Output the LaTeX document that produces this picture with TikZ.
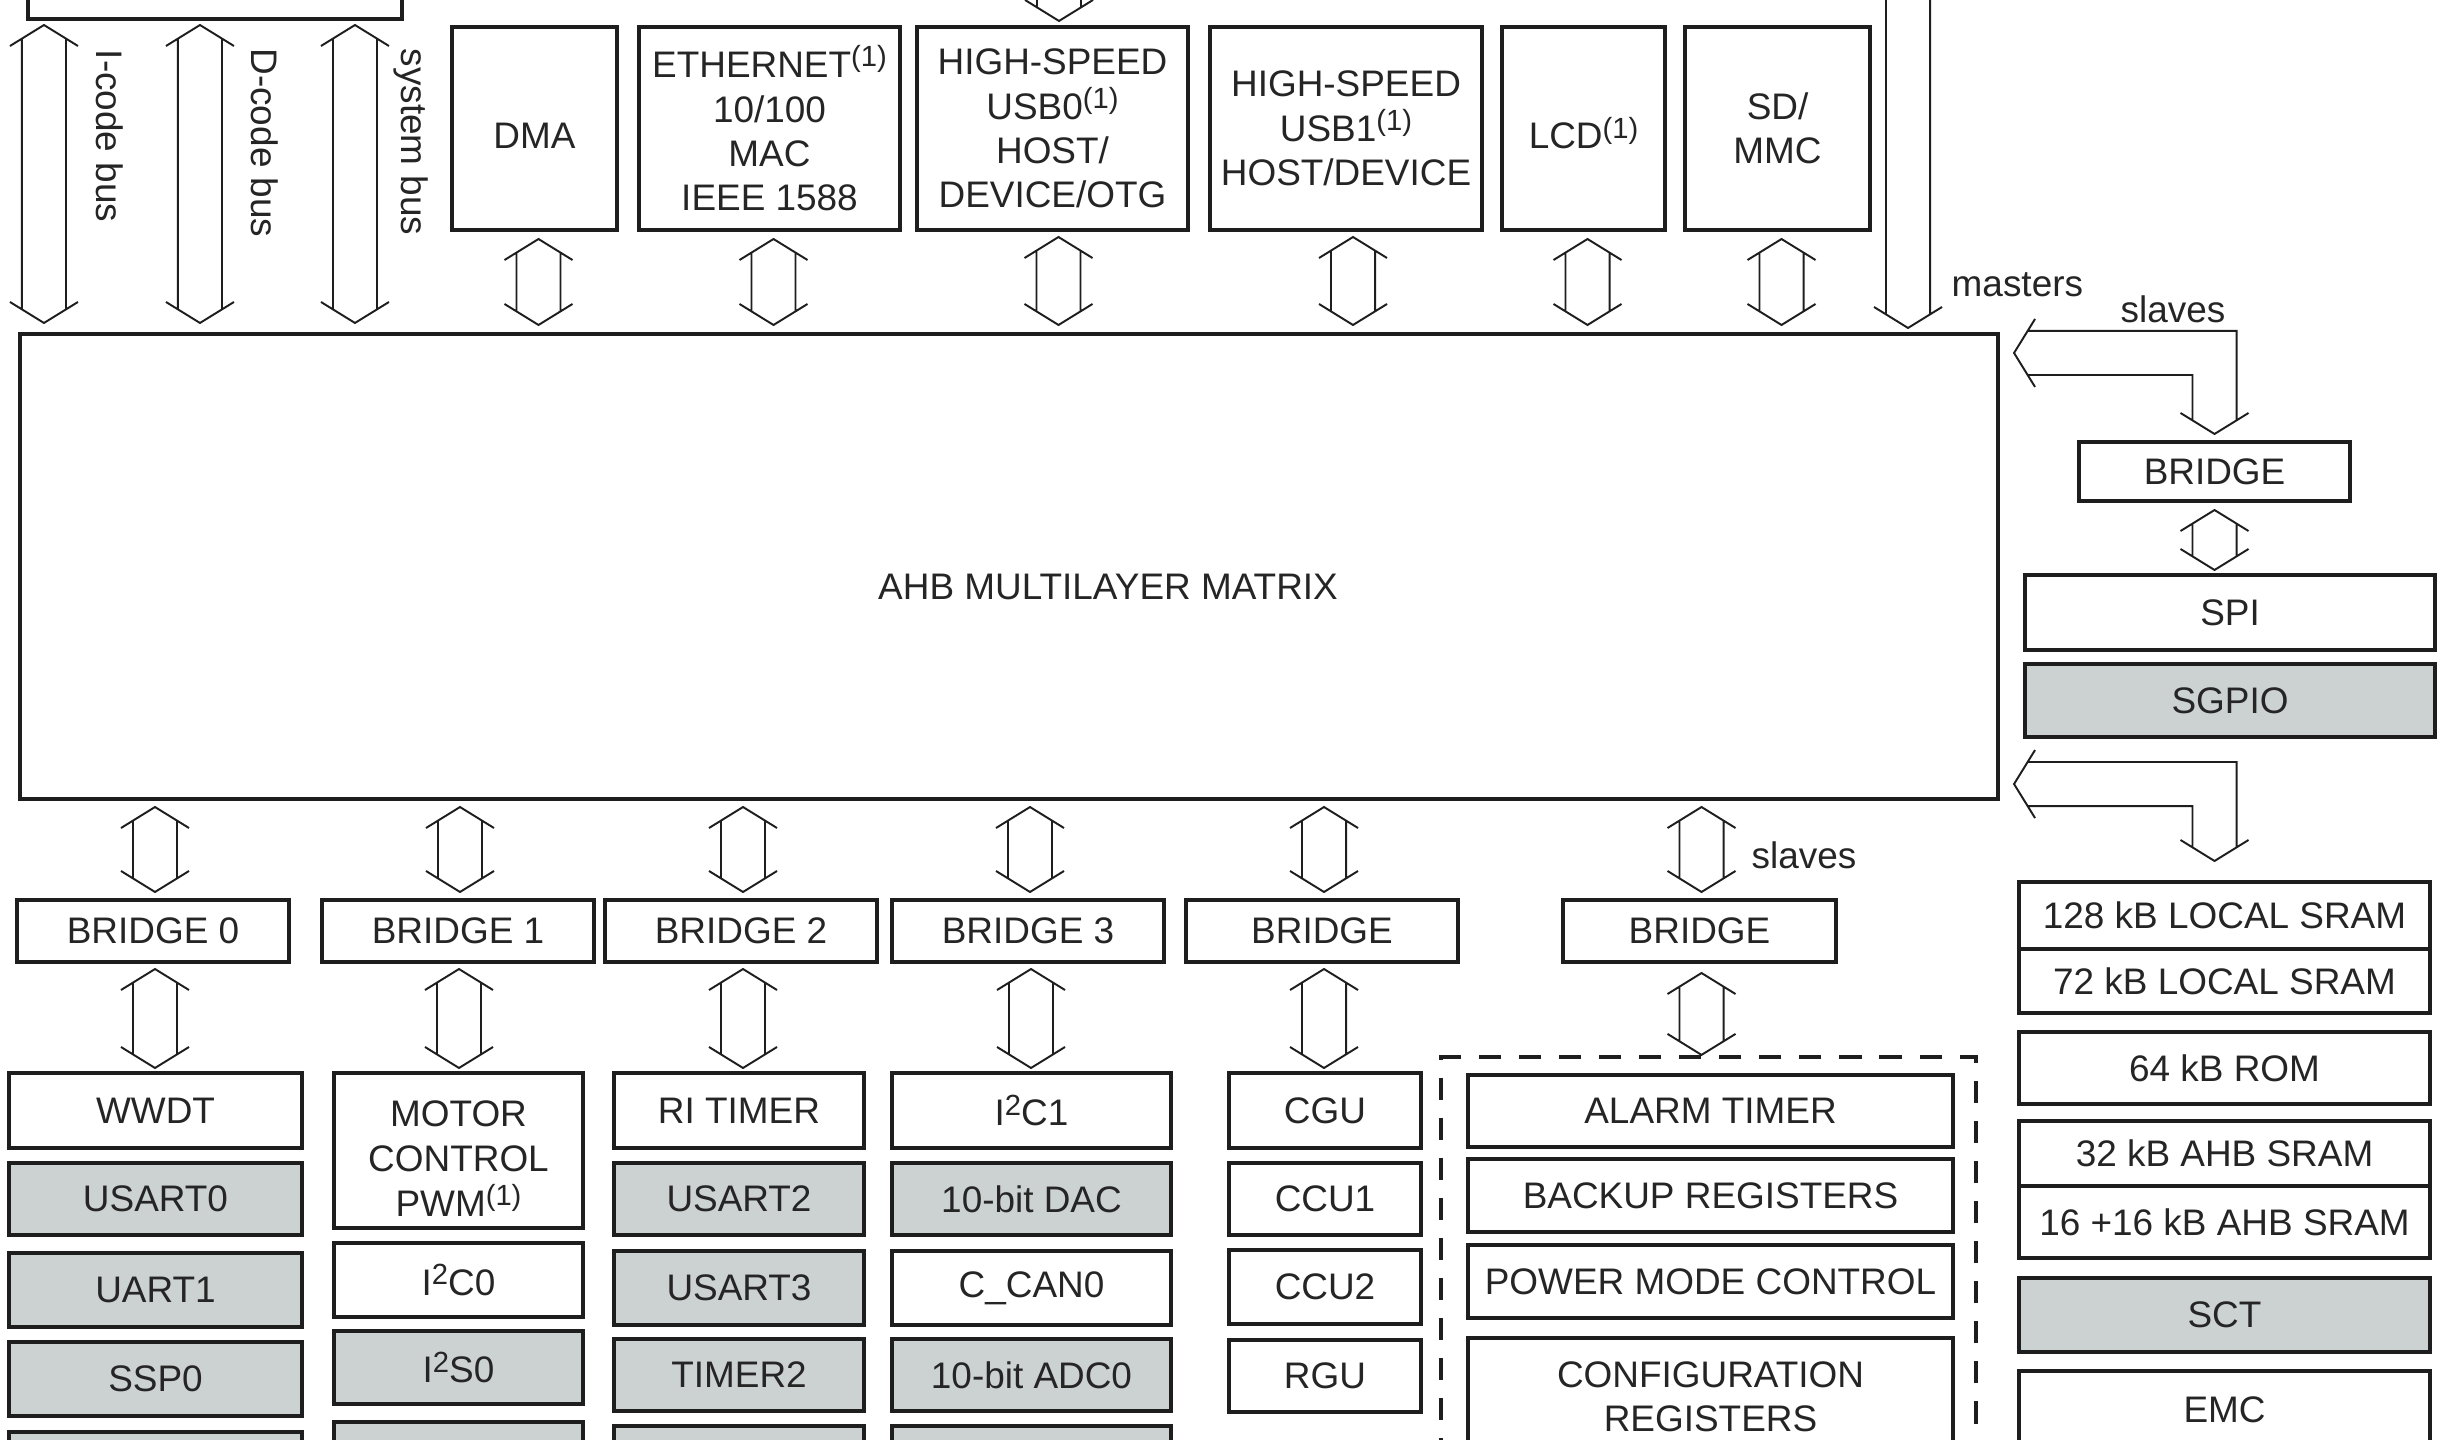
\documentclass[tikz,border=0pt]{standalone}
\usepackage{fontspec}
\setmainfont{Liberation Sans}
\usetikzlibrary{calc}
\definecolor{ink}{HTML}{1E1E1E}
\definecolor{txt}{HTML}{252525}
\definecolor{boxgray}{RGB}{204,209,209}
\newdimen\arrW \newdimen\arrH \newdimen\arrS \newdimen\arrHS
\arrW=9.67pt \arrH=5.97pt \arrS=6.26pt \arrHS=3.87pt
% superscript as printed in the figure
\newcommand\sups[1]{\raisebox{3.1pt}{\fontsize{8.3}{8.3}\selectfont #1}}
% lower a text inside its box without changing the box
\newcommand\lowr[2]{\raisebox{-#1}[\height][\depth]{#2}}
% box from (x1,y1) to (x2,y2) in pixel units, y downwards
\newcommand\bx[7]{\node[#7, minimum width={(#4-#2)*0.01cm}, minimum height={(#5-#3)*0.01cm}] (#1) at ({(#2+#4)/2},{-(#3+#5)/2}) {#6};}
% vertical double block arrow: #1 gives x, #2 top tip, #3 bottom tip
\newcommand\vdarr[3]{\draw[arr] let \p1=#1, \p2=#2, \p3=#3 in
  (\x1-\arrW,\y2-\arrH) -- (\x1,\y2) -- (\x1+\arrW,\y2-\arrH)
  (\x1-\arrW,\y3+\arrH) -- (\x1,\y3) -- (\x1+\arrW,\y3+\arrH)
  (\x1-\arrS,\y2-\arrHS) -- (\x1-\arrS,\y3+\arrHS)
  (\x1+\arrS,\y2-\arrHS) -- (\x1+\arrS,\y3+\arrHS);}
% L-shaped block arrow: #1 left tip, #2 lower tip
\newcommand\larr[2]{\draw[arr] let \p1=#1, \p2=#2 in
  (\x1+\arrH,\y1+\arrW) -- (\x1,\y1) -- (\x1+\arrH,\y1-\arrW)
  (\x2-\arrW,\y2+\arrH) -- (\x2,\y2) -- (\x2+\arrW,\y2+\arrH)
  (\x1+\arrHS,\y1+\arrS) -- (\x2+\arrS,\y1+\arrS) -- (\x2+\arrS,\y2+\arrHS)
  (\x1+\arrHS,\y1-\arrS) -- (\x2-\arrS,\y1-\arrS) -- (\x2-\arrS,\y2+\arrHS);}

\begin{document}
\begin{tikzpicture}[x=0.01cm,y=0.01cm,
  every node/.style={font=\fontsize{10.5}{12.6}\selectfont, text=txt},
  blk/.style={draw=ink, line width=1.15pt, fill=white, inner sep=0pt, align=center},
  gblk/.style={blk, fill=boxgray},
  grpbox/.style={draw=ink, line width=1.2pt, dash pattern=on 6.3pt off 5.1pt, inner sep=0pt},
  arr/.style={draw=ink, line width=0.55pt, line join=miter},
  lbl/.style={inner sep=0pt}]
\useasboundingbox[fill=white] (0,0) rectangle (2440,-1440);

% ---------- top row ----------
\bx{tl}{28}{-60}{402}{19}{}{blk}
\bx{dma}{452}{27}{617}{230}{\lowr{2.2pt}{DMA}}{blk}
\bx{eth}{639}{27}{900}{230}{ETHERNET\sups{(1)}\\10/100\\MAC\\IEEE 1588}{blk}
\bx{usb0}{917}{27}{1188}{230}{HIGH-SPEED\\USB0\sups{(1)}\\HOST/\\DEVICE/OTG}{blk}
\bx{usb1}{1210}{27}{1482}{230}{HIGH-SPEED\\USB1\sups{(1)}\\HOST/DEVICE}{blk}
\bx{lcd}{1502}{27}{1665}{230}{\lowr{1.3pt}{LCD\sups{(1)}}}{blk}
\bx{sd}{1685}{27}{1870}{230}{SD/\\MMC}{blk}

% ---------- matrix ----------
\bx{ahb}{20}{334}{1998}{799}{}{blk}
\node[lbl] (ahblbl) at (1108,-587) {AHB MULTILAYER MATRIX};

% bus arrows and labels
\vdarr{($(tl.south west)+(18,0)$)}{($(tl.south)+(0,-4)$)}{($(ahb.north)+(0,9)$)}
\vdarr{($(tl.south west)+(174,0)$)}{($(tl.south)+(0,-4)$)}{($(ahb.north)+(0,9)$)}
\vdarr{($(tl.south west)+(329,0)$)}{($(tl.south)+(0,-4)$)}{($(ahb.north)+(0,9)$)}
\node[lbl, rotate=-90] (ibus) at (110,-136) {I-code bus};
\node[lbl, rotate=-90] (dbus) at (265,-143) {D-code bus};
\node[lbl, rotate=-90] (sbus) at (411,-142) {system bus};

% top peripheral arrows
\vdarr{($(dma.south)+(4,0)$)}{($(dma.south)+(0,-7)$)}{($(ahb.north)+(0,7)$)}
\vdarr{($(eth.south)+(4,0)$)}{($(eth.south)+(0,-7)$)}{($(ahb.north)+(0,7)$)}
\vdarr{($(usb0.south)+(6,0)$)}{($(usb0.south)+(0,-5)$)}{($(ahb.north)+(0,7)$)}
\vdarr{($(usb1.south)+(7,0)$)}{($(usb1.south)+(0,-5)$)}{($(ahb.north)+(0,7)$)}
\vdarr{($(lcd.south)+(4,0)$)}{($(lcd.south)+(0,-7)$)}{($(ahb.north)+(0,7)$)}
\vdarr{($(sd.south)+(4,0)$)}{($(sd.south)+(0,-7)$)}{($(ahb.north)+(0,7)$)}
% arrows coming from above the picture
\coordinate (utop) at (1059,90);
\coordinate (mtop) at (1908,90);
\vdarr{(utop)}{(utop)}{($(usb0.north)+(0,4)$)}
\vdarr{(mtop)}{(mtop)}{($(ahb.north)+(0,4)$)}
\node[lbl, anchor=west] (mast) at (1951,-285) {masters};

% ---------- right column ----------
\bx{rbr}{2079}{442}{2350}{501}{BRIDGE}{blk}
\bx{spi}{2025}{575}{2435}{650}{SPI}{blk}
\bx{sgpio}{2025}{664}{2435}{737}{SGPIO}{gblk}
\bx{s128}{2019}{882}{2430}{949}{128 kB LOCAL SRAM}{blk}
\bx{s72}{2019}{949}{2430}{1013}{72 kB LOCAL SRAM}{blk}
\bx{rom}{2019}{1032}{2430}{1104}{64 kB ROM}{blk}
\bx{a32}{2019}{1121}{2430}{1186}{32 kB AHB SRAM}{blk}
\bx{a16}{2019}{1186}{2430}{1258}{16 +16 kB AHB SRAM}{blk}
\bx{sct}{2019}{1278}{2430}{1352}{SCT}{gblk}
\bx{emc}{2019}{1371}{2430}{1448}{EMC}{blk}

\coordinate (slA) at ($(ahb.north east)+(14,-21)$);
\coordinate (slB) at ($(ahb.south east)+(14,17)$);
\larr{(slA)}{($(rbr.north)+(0,6)$)}
\larr{(slB)}{($(s128.north)+(-10,19)$)}
\node[lbl] (slv1) at (2173,-309) {slaves};
\vdarr{(rbr.south)}{($(rbr.south)+(0,-7)$)}{($(spi.north)+(0,3)$)}

% ---------- bridges ----------
\bx{br0}{17}{900}{289}{962}{BRIDGE 0}{blk}
\bx{br1}{322}{900}{594}{962}{BRIDGE 1}{blk}
\bx{br2}{605}{900}{877}{962}{BRIDGE 2}{blk}
\bx{br3}{892}{900}{1164}{962}{BRIDGE 3}{blk}
\bx{br4}{1186}{900}{1458}{962}{BRIDGE}{blk}
\bx{br5}{1563}{900}{1836}{962}{BRIDGE}{blk}
\foreach \b in {br0,br1,br2,br3,br4,br5}{
  \vdarr{($(\b.north)+(2,0)$)}{($(ahb.south)+(0,-6)$)}{($(\b.north)+(0,6)$)}
}
\node[lbl] (slv2) at (1804,-855) {slaves};

% ---------- peripheral columns ----------
\bx{wwdt}{9}{1073}{302}{1148}{WWDT}{blk}
\bx{usart0}{9}{1163}{302}{1235}{USART0}{gblk}
\bx{uart1}{9}{1253}{302}{1327}{UART1}{gblk}
\bx{ssp0}{9}{1342}{302}{1416}{SSP0}{gblk}
\bx{c1e}{9}{1432}{302}{1510}{}{gblk}

\bx{motor}{334}{1073}{583}{1228}{\lowr{3.5pt}{\begin{tabular}{@{}c@{}}MOTOR\\CONTROL\\PWM\sups{(1)}\end{tabular}}}{blk}
\bx{i2c0}{334}{1243}{583}{1317}{I\sups{2}C0}{blk}
\bx{i2s0}{334}{1331}{583}{1404}{I\sups{2}S0}{gblk}
\bx{c2e}{334}{1422}{583}{1500}{}{gblk}

\bx{ritimer}{614}{1073}{864}{1148}{RI TIMER}{blk}
\bx{usart2}{614}{1163}{864}{1235}{USART2}{gblk}
\bx{usart3}{614}{1251}{864}{1325}{USART3}{gblk}
\bx{timer2}{614}{1339}{864}{1411}{TIMER2}{gblk}
\bx{c3e}{614}{1426}{864}{1500}{}{gblk}

\bx{i2c1}{892}{1073}{1171}{1148}{I\sups{2}C1}{blk}
\bx{dac}{892}{1163}{1171}{1235}{10-bit DAC}{gblk}
\bx{ccan0}{892}{1251}{1171}{1325}{C\_CAN0}{blk}
\bx{adc0}{892}{1339}{1171}{1411}{10-bit ADC0}{gblk}
\bx{c4e}{892}{1426}{1171}{1500}{}{gblk}

\bx{cgu}{1229}{1073}{1421}{1148}{CGU}{blk}
\bx{ccu1}{1229}{1163}{1421}{1235}{CCU1}{blk}
\bx{ccu2}{1229}{1250}{1421}{1324}{CCU2}{blk}
\bx{rgu}{1229}{1340}{1421}{1412}{RGU}{blk}

\bx{grp}{1441}{1057}{1976}{1530}{}{grpbox}
\bx{alarm}{1468}{1075}{1953}{1147}{ALARM TIMER}{blk}
\bx{backup}{1468}{1159}{1953}{1232}{BACKUP REGISTERS}{blk}
\bx{pmc}{1468}{1245}{1953}{1318}{POWER MODE CONTROL}{blk}
\bx{cfg}{1468}{1338}{1953}{1456}{CONFIGURATION\\REGISTERS}{blk}

% bridge to peripheral arrows
\vdarr{($(br0.south)+(2,0)$)}{($(br0.south)+(0,-5)$)}{($(wwdt.north)+(0,3)$)}
\vdarr{($(br1.south)+(1,0)$)}{($(br1.south)+(0,-5)$)}{($(motor.north)+(0,3)$)}
\vdarr{($(br2.south)+(2,0)$)}{($(br2.south)+(0,-5)$)}{($(ritimer.north)+(0,3)$)}
\vdarr{($(br3.south)+(3,0)$)}{($(br3.south)+(0,-5)$)}{($(i2c1.north)+(0,3)$)}
\vdarr{($(br4.south)+(2,0)$)}{($(br4.south)+(0,-5)$)}{($(cgu.north)+(0,3)$)}
\vdarr{($(br5.south)+(2,0)$)}{($(br5.south)+(0,-9)$)}{(grp.north)}
\end{tikzpicture}
\end{document}
